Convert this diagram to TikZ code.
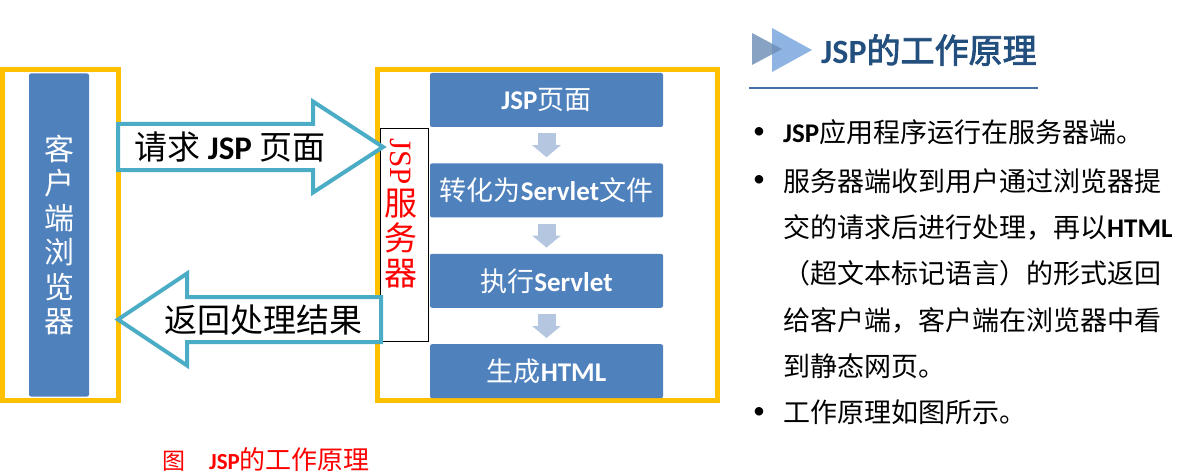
\documentclass[tikz,border=0pt]{standalone}
\usepackage{fontspec}
\setmainfont{Noto Sans CJK SC}
\newfontfamily\cjkb{Noto Sans CJK SC}[FakeBold=2.5]
\newfontfamily\lat{Carlito}
\newfontfamily\serif{Liberation Serif}
\usepackage{graphicx}
\usepackage{tikz}
\usetikzlibrary{positioning,arrows.meta,calc}
\definecolor{gold}{HTML}{FFC000}
\definecolor{barblue}{HTML}{4F81BD}
\definecolor{tealline}{HTML}{4BACC6}
\definecolor{stepgray}{HTML}{B4C6E0}
\definecolor{titleblue}{HTML}{234F7E}
\definecolor{ruleblue}{HTML}{4371A6}
\definecolor{trilight}{HTML}{8DB4E2}
\definecolor{tridark}{HTML}{6A8BB5}
\newcommand\en[1]{{\lat\bfseries #1}}

\begin{document}
\begin{tikzpicture}[x=1pt,y=-1pt,
    frame/.style={draw=gold,line width=5pt,inner sep=0pt,outer sep=0pt},
    bar/.style={fill=barblue,rounded corners=2pt,inner sep=0pt,text=white},
    stepbox/.style={fill=barblue,rounded corners=2pt,minimum width=233pt,minimum height=54pt,
      inner sep=0pt,text=white,font=\fontsize{27}{27}\selectfont},
    stepflow/.style={draw=stepgray,line width=18pt,-{Triangle[width=28pt,length=12pt]}},
    bigarrow/.style={draw=tealline,line width=4pt,fill=white,line join=miter},
    body/.style={anchor=west,inner sep=0pt,font=\fontsize{27}{27}\selectfont},
    dot/.style={inner sep=0pt,font=\lat\fontsize{24}{24}\selectfont}]
  \useasboundingbox (0,0) rectangle (1178,476);

  % client side
  \node[frame,minimum width=116pt,minimum height=330pt] (cframe) at (60,235) {};
  \node[bar,minimum width=60pt,minimum height=323pt,align=center,
        font=\fontsize{30}{34.5}\selectfont] (browser) at (59,235)
        {客\\户\\端\\浏\\览\\器};

  % server side
  \node[frame,minimum width=340pt,minimum height=330pt] (sframe) at (547,235) {};
  \node[stepbox] (p1) at (546.5,100) {\en{JSP}页面};
  \node[stepbox,below=36pt of p1] (p2) {转化为\en{Servlet}文件};
  \node[stepbox,below=36pt of p2] (p3) {执行\en{Servlet}};
  \node[stepbox,below=36pt of p3] (p4) {生成\en{HTML}};
  \draw[stepflow] ([yshift=-6pt]p1.south) -- ([yshift=6pt]p2.north);
  \draw[stepflow] ([yshift=-6pt]p2.south) -- ([yshift=6pt]p3.north);
  \draw[stepflow] ([yshift=-6pt]p3.south) -- ([yshift=6pt]p4.north);

  \node[draw=black,line width=0.8pt,fill=white,minimum width=48pt,minimum height=213pt,
        inner sep=0pt] (jsps) at (404,234.5) {};
  \node[text=red,align=center,inner sep=0pt,font=\fontsize{33}{35}\selectfont]
        (jspst) at (401,213) {\rotatebox{-90}{\serif\fontsize{31}{31}\selectfont JSP}\\[3pt]服\\务\\器};

  % request and response
  \coordinate (reqtail) at (118,147);
  \coordinate (reqtip) at (383,147);
  \coordinate (restail) at (381,319.5);
  \coordinate (restip) at (118,319.5);
  \draw[bigarrow] let \p1=(reqtail), \p2=(reqtip) in
    ({\x1},{\y1+23pt}) -- ({\x2-70pt},{\y1+23pt}) -- ({\x2-70pt},{\y1+45.5pt}) -- (\p2)
    -- ({\x2-70pt},{\y1-45.5pt}) -- ({\x2-70pt},{\y1-23pt}) -- ({\x1},{\y1-23pt}) -- cycle;
  \draw[bigarrow] let \p1=(restail), \p2=(restip) in
    ({\x1},{\y1+22.5pt}) -- ({\x2+69pt},{\y1+22.5pt}) -- ({\x2+69pt},{\y1+46pt}) -- (\p2)
    -- ({\x2+69pt},{\y1-46pt}) -- ({\x2+69pt},{\y1-22.5pt}) -- ({\x1},{\y1-22.5pt}) -- cycle;
  \node[inner sep=0pt,font=\fontsize{33}{33}\selectfont] (req) at (230,147)
        {请求 \en{JSP} 页面};
  \node[inner sep=0pt,font=\fontsize{33}{33}\selectfont] (res) at (263,320)
        {返回处理结果};

  % caption
  \node[anchor=west,inner sep=0pt,text=red,font=\fontsize{23}{23}\selectfont] (cap)
        at (162,460) {图\hspace{24pt}{\lat\bfseries\fontsize{23}{23}\selectfont JSP}%
        {\fontsize{26}{26}\selectfont 的工作原理}};

  % heading
  \fill[trilight] (772,28) -- (812,50) -- (772,72) -- cycle;
  \fill[tridark,opacity=0.8] (752,33) -- (782,49) -- (752,65) -- cycle;
  \node[anchor=west,inner sep=0pt,text=titleblue,font=\fontsize{34}{34}\selectfont]
        (title) at (821,50) {\en{JSP}{\cjkb 的工作原理}};
  \draw[ruleblue,line width=1.5pt] (749,88) -- (1038,88);

  % bullets
  \node[dot] (d1) at (759,133) {•};
  \node[dot] (d2) at (759,181) {•};
  \node[dot] (d3) at (759,413) {•};
  \node[body] (t1) at (783,132) {\en{JSP}应用程序运行在服务器端。};
  \node[body] (t2) at (783,181) {服务器端收到用户通过浏览器提};
  \node[body] (t3) at (783,227) {交的请求后进行处理，再以\en{HTML}};
  \node[body] (t4) at (783,273) {（超文本标记语言）的形式返回};
  \node[body] (t5) at (783,320) {给客户端，客户端在浏览器中看};
  \node[body] (t6) at (783,366) {到静态网页。};
  \node[body] (t7) at (783,412) {工作原理如图所示。};
\end{tikzpicture}
\end{document}
